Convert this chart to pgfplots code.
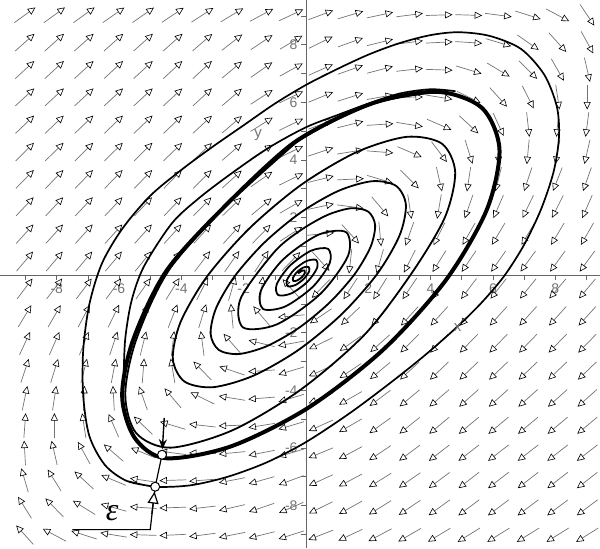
\documentclass[border=0pt]{standalone}
\usepackage{pgfplots}
\pgfplotsset{compat=1.18}
\usepackage{fontspec}
\setmainfont{Liberation Sans}
\newfontfamily\serifit{Liberation Serif}
\usetikzlibrary{arrows.meta}
\begin{document}
\begin{tikzpicture}
\begin{axis}[
  width=600pt, height=548pt, scale only axis,
  xmin=-9.808, xmax=9.423, ymin=-9.466, ymax=9.535,
  axis lines=middle,
  axis line style={-, draw=black!60, line width=0.8pt},
  xtick={-8,-6,-4,-2,2,4,6,8},
  xticklabels={-8,-6,-4,-2,2,4,6,8},
  ytick={-8,-6,-4,-2,2,4,6,8},
  yticklabels={-8,-6,-4,-2,2,4,6,8},
  minor xtick={-9,-7,-5,-3,-1,1,3,5,7,9},
  minor ytick={-9,-7,-5,-3,-1,1,3,5,7,9},
  tick align=outside,
  major tick length=5pt, minor tick length=5pt,
  tick style={draw=black!60, line width=0.6pt},
  every tick label/.append style={font=\fontsize{14}{14}\selectfont, text=black!55},
]
% direction field: grid centre x, y and direction angle a (degrees)
\addplot[draw=black!55, line width=0.7pt,
  -{Triangle[open, length=7.5pt, width=7pt, color=black, line width=0.6pt]},
  quiver={u={0.86*cos(\thisrow{a})}, v={0.86*sin(\thisrow{a})}}]
  table[row sep=\\, x expr={\thisrow{x}-0.43*cos(\thisrow{a})}, y expr={\thisrow{y}-0.43*sin(\thisrow{a})}] {
x y a\\
-9.025 9.025 38\\ -8.075 9.025 38\\ -7.125 9.025 38\\ -6.175 9.025 37\\ -5.225 9.025 37\\ -4.275 9.025 36\\ -3.325 9.025 35\\ -2.375 9.025 33\\ -1.425 9.025 30\\ -0.475 9.025 27\\ 0.475 9.025 22\\ 1.425 9.025 18\\ 2.375 9.025 13\\ 3.325 9.025 8\\ 4.275 9.025 2\\ 5.225 9.025 -2\\ 6.175 9.025 -8\\ 7.125 9.025 -19\\ 8.075 9.025 -30\\ 9.025 9.025 -58\\
-9.025 8.075 44\\ -8.075 8.075 44\\ -7.125 8.075 44\\ -6.175 8.075 44\\ -5.225 8.075 44\\ -4.275 8.075 44\\ -3.325 8.075 43\\ -2.375 8.075 40\\ -1.425 8.075 36\\ -0.475 8.075 33\\ 0.475 8.075 28\\ 1.425 8.075 21\\ 2.375 8.075 15\\ 3.325 8.075 8\\ 4.275 8.075 3\\ 5.225 8.075 -4\\ 6.175 8.075 -18\\ 7.125 8.075 -37\\ 8.075 8.075 -50\\ 9.025 8.075 -63\\
-9.025 7.125 45\\ -8.075 7.125 45\\ -7.125 7.125 45\\ -6.175 7.125 45\\ -5.225 7.125 45\\ -4.275 7.125 45\\ -3.325 7.125 45\\ -2.375 7.125 42\\ -1.425 7.125 37\\ -0.475 7.125 31\\ 0.475 7.125 26\\ 1.425 7.125 21\\ 2.375 7.125 16\\ 3.325 7.125 7\\ 4.275 7.125 -2\\ 5.225 7.125 -18\\ 6.175 7.125 -33\\ 7.125 7.125 -47\\ 8.075 7.125 -62\\ 9.025 7.125 -78\\
-9.025 6.175 45\\ -8.075 6.175 45\\ -7.125 6.175 45\\ -6.175 6.175 45\\ -5.225 6.175 45\\ -4.275 6.175 45\\ -3.325 6.175 45\\ -2.375 6.175 43\\ -1.425 6.175 35\\ -0.475 6.175 28\\ 0.475 6.175 24\\ 1.425 6.175 19\\ 2.375 6.175 11\\ 3.325 6.175 1\\ 4.275 6.175 -10\\ 5.225 6.175 -28\\ 6.175 6.175 -50\\ 7.125 6.175 -65\\ 8.075 6.175 -82\\ 9.025 6.175 -90\\
-9.025 5.225 46\\ -8.075 5.225 46\\ -7.125 5.225 46\\ -6.175 5.225 46\\ -5.225 5.225 46\\ -4.275 5.225 46\\ -3.325 5.225 45\\ -2.375 5.225 43\\ -1.425 5.225 34\\ -0.475 5.225 28\\ 0.475 5.225 22\\ 1.425 5.225 15\\ 2.375 5.225 4\\ 3.325 5.225 -10\\ 4.275 5.225 -25\\ 5.225 5.225 -45\\ 6.175 5.225 -67\\ 7.125 5.225 -84\\ 8.075 5.225 -95\\ 9.025 5.225 -97\\
-9.025 4.275 47\\ -8.075 4.275 47\\ -7.125 4.275 47\\ -6.175 4.275 47\\ -5.225 4.275 47\\ -4.275 4.275 46\\ -3.325 4.275 45\\ -2.375 4.275 43\\ -1.425 4.275 35\\ -0.475 4.275 28\\ 0.475 4.275 20\\ 1.425 4.275 10\\ 2.375 4.275 -5\\ 3.325 4.275 -25\\ 4.275 4.275 -55\\ 5.225 4.275 -74\\ 6.175 4.275 -88\\ 7.125 4.275 -95\\ 8.075 4.275 -100\\ 9.025 4.275 -102\\
-9.025 3.325 48\\ -8.075 3.325 48\\ -7.125 3.325 48\\ -6.175 3.325 48\\ -5.225 3.325 48\\ -4.275 3.325 48\\ -3.325 3.325 47\\ -2.375 3.325 44\\ -1.425 3.325 37\\ -0.475 3.325 28\\ 0.475 3.325 15\\ 1.425 3.325 3\\ 2.375 3.325 -18\\ 3.325 3.325 -47\\ 4.275 3.325 -78\\ 5.225 3.325 -98\\ 6.175 3.325 -103\\ 7.125 3.325 -107\\ 8.075 3.325 -110\\ 9.025 3.325 -108\\
-9.025 2.375 49\\ -8.075 2.375 49\\ -7.125 2.375 49\\ -6.175 2.375 49\\ -5.225 2.375 49\\ -4.275 2.375 49\\ -3.325 2.375 48\\ -2.375 2.375 46\\ -1.425 2.375 42\\ -0.475 2.375 32\\ 0.475 2.375 13\\ 1.425 2.375 -8\\ 2.375 2.375 -52\\ 3.325 2.375 -82\\ 4.275 2.375 -99\\ 5.225 2.375 -108\\ 6.175 2.375 -112\\ 7.125 2.375 -114\\ 8.075 2.375 -115\\ 9.025 2.375 -112\\
-9.025 1.425 50\\ -8.075 1.425 50\\ -7.125 1.425 50\\ -6.175 1.425 50\\ -5.225 1.425 50\\ -4.275 1.425 50\\ -3.325 1.425 50\\ -2.375 1.425 50\\ -1.425 1.425 48\\ -0.475 1.425 35\\ 0.475 1.425 6\\ 1.425 1.425 -50\\ 2.375 1.425 -85\\ 3.325 1.425 -108\\ 4.275 1.425 -115\\ 5.225 1.425 -118\\ 6.175 1.425 -119\\ 7.125 1.425 -119\\ 8.075 1.425 -119\\ 9.025 1.425 -118\\
-9.025 0.475 52\\ -8.075 0.475 52\\ -7.125 0.475 52\\ -6.175 0.475 52\\ -5.225 0.475 53\\ -4.275 0.475 54\\ -3.325 0.475 55\\ -2.375 0.475 57\\ -1.425 0.475 59\\ -0.475 0.475 48\\ 0.475 0.475 -50\\ 1.425 0.475 -96\\ 2.375 0.475 -105\\ 3.325 0.475 -115\\ 4.275 0.475 -120\\ 5.225 0.475 -122\\ 6.175 0.475 -123\\ 7.125 0.475 -124\\ 8.075 0.475 -124\\ 9.025 0.475 -124\\
-9.025 -0.475 55\\ -8.075 -0.475 55\\ -7.125 -0.475 55\\ -6.175 -0.475 56\\ -5.225 -0.475 57\\ -4.275 -0.475 60\\ -3.325 -0.475 65\\ -2.375 -0.475 75\\ -1.425 -0.475 84\\ -0.475 -0.475 130\\ 0.475 -0.475 -132\\ 1.425 -0.475 -121\\ 2.375 -0.475 -120\\ 3.325 -0.475 -122\\ 4.275 -0.475 -124\\ 5.225 -0.475 -125\\ 6.175 -0.475 -126\\ 7.125 -0.475 -127\\ 8.075 -0.475 -128\\ 9.025 -0.475 -128\\
-9.025 -1.425 61\\ -8.075 -1.425 62\\ -7.125 -1.425 64\\ -6.175 -1.425 66\\ -5.225 -1.425 68\\ -4.275 -1.425 70\\ -3.325 -1.425 74\\ -2.375 -1.425 95\\ -1.425 -1.425 128\\ -0.475 -1.425 -174\\ 0.475 -1.425 -144\\ 1.425 -1.425 -134\\ 2.375 -1.425 -130\\ 3.325 -1.425 -130\\ 4.275 -1.425 -130\\ 5.225 -1.425 -130\\ 6.175 -1.425 -130\\ 7.125 -1.425 -130\\ 8.075 -1.425 -130\\ 9.025 -1.425 -130\\
-9.025 -2.375 67\\ -8.075 -2.375 68\\ -7.125 -2.375 70\\ -6.175 -2.375 73\\ -5.225 -2.375 77\\ -4.275 -2.375 84\\ -3.325 -2.375 97\\ -2.375 -2.375 129\\ -1.425 -2.375 165\\ -0.475 -2.375 -169\\ 0.475 -2.375 -152\\ 1.425 -2.375 -143\\ 2.375 -2.375 -136\\ 3.325 -2.375 -133\\ 4.275 -2.375 -132\\ 5.225 -2.375 -132\\ 6.175 -2.375 -132\\ 7.125 -2.375 -132\\ 8.075 -2.375 -132\\ 9.025 -2.375 -132\\
-9.025 -3.325 73\\ -8.075 -3.325 74\\ -7.125 -3.325 77\\ -6.175 -3.325 80\\ -5.225 -3.325 86\\ -4.275 -3.325 99\\ -3.325 -3.325 132\\ -2.375 -3.325 160\\ -1.425 -3.325 -176\\ -0.475 -3.325 -162\\ 0.475 -3.325 -154\\ 1.425 -3.325 -144\\ 2.375 -3.325 -138\\ 3.325 -3.325 -135\\ 4.275 -3.325 -134\\ 5.225 -3.325 -134\\ 6.175 -3.325 -134\\ 7.125 -3.325 -134\\ 8.075 -3.325 -134\\ 9.025 -3.325 -134\\
-9.025 -4.275 79\\ -8.075 -4.275 82\\ -7.125 -4.275 88\\ -6.175 -4.275 93\\ -5.225 -4.275 108\\ -4.275 -4.275 128\\ -3.325 -4.275 152\\ -2.375 -4.275 170\\ -1.425 -4.275 -175\\ -0.475 -4.275 -162\\ 0.475 -4.275 -155\\ 1.425 -4.275 -148\\ 2.375 -4.275 -141\\ 3.325 -4.275 -138\\ 4.275 -4.275 -137\\ 5.225 -4.275 -136\\ 6.175 -4.275 -136\\ 7.125 -4.275 -136\\ 8.075 -4.275 -136\\ 9.025 -4.275 -136\\
-9.025 -5.225 86\\ -8.075 -5.225 90\\ -7.125 -5.225 98\\ -6.175 -5.225 112\\ -5.225 -5.225 134\\ -4.275 -5.225 162\\ -3.325 -5.225 173\\ -2.375 -5.225 -178\\ -1.425 -5.225 -170\\ -0.475 -5.225 -162\\ 0.475 -5.225 -154\\ 1.425 -5.225 -148\\ 2.375 -5.225 -142\\ 3.325 -5.225 -139\\ 4.275 -5.225 -138\\ 5.225 -5.225 -138\\ 6.175 -5.225 -138\\ 7.125 -5.225 -138\\ 8.075 -5.225 -138\\ 9.025 -5.225 -138\\
-9.025 -6.175 93\\ -8.075 -6.175 102\\ -7.125 -6.175 117\\ -6.175 -6.175 137\\ -5.225 -6.175 156\\ -4.275 -6.175 172\\ -3.325 -6.175 180\\ -2.375 -6.175 -174\\ -1.425 -6.175 -168\\ -0.475 -6.175 -162\\ 0.475 -6.175 -156\\ 1.425 -6.175 -150\\ 2.375 -6.175 -144\\ 3.325 -6.175 -141\\ 4.275 -6.175 -140\\ 5.225 -6.175 -140\\ 6.175 -6.175 -140\\ 7.125 -6.175 -140\\ 8.075 -6.175 -140\\ 9.025 -6.175 -140\\
-9.025 -7.125 105\\ -8.075 -7.125 120\\ -7.125 -7.125 135\\ -6.175 -7.125 156\\ -5.225 -7.125 171\\ -4.275 -7.125 -178\\ -3.325 -7.125 -175\\ -2.375 -7.125 -168\\ -1.425 -7.125 -163\\ -0.475 -7.125 -158\\ 0.475 -7.125 -154\\ 1.425 -7.125 -150\\ 2.375 -7.125 -146\\ 3.325 -7.125 -143\\ 4.275 -7.125 -141\\ 5.225 -7.125 -140\\ 6.175 -7.125 -140\\ 7.125 -7.125 -140\\ 8.075 -7.125 -140\\ 9.025 -7.125 -140\\
-9.025 -8.075 120\\ -8.075 -8.075 132\\ -7.125 -8.075 146\\ -6.175 -8.075 163\\ -5.225 -8.075 176\\ -4.275 -8.075 -178\\ -3.325 -8.075 -173\\ -2.375 -8.075 -166\\ -1.425 -8.075 -160\\ -0.475 -8.075 -155\\ 0.475 -8.075 -152\\ 1.425 -8.075 -149\\ 2.375 -8.075 -146\\ 3.325 -8.075 -144\\ 4.275 -8.075 -142\\ 5.225 -8.075 -141\\ 6.175 -8.075 -141\\ 7.125 -8.075 -141\\ 8.075 -8.075 -141\\ 9.025 -8.075 -141\\
-9.025 -9.025 130\\ -8.075 -9.025 150\\ -7.125 -9.025 161\\ -6.175 -9.025 170\\ -5.225 -9.025 178\\ -4.275 -9.025 -177\\ -3.325 -9.025 -172\\ -2.375 -9.025 -168\\ -1.425 -9.025 -165\\ -0.475 -9.025 -161\\ 0.475 -9.025 -157\\ 1.425 -9.025 -153\\ 2.375 -9.025 -150\\ 3.325 -9.025 -148\\ 4.275 -9.025 -147\\ 5.225 -9.025 -146\\ 6.175 -9.025 -146\\ 7.125 -9.025 -146\\ 8.075 -9.025 -146\\ 9.025 -9.025 -146\\
};
% outer trajectory (first lap from the epsilon point)
\addplot[black, line width=1.7pt, smooth] coordinates {
(-4.84,-7.35) (-5.75,-7.15) (-6.45,-6.6) (-6.95,-5.6) (-7.15,-4.2) (-7.15,-2.6) (-6.95,-1.0) (-6.55,0.4) (-5.9,1.6) (-5.0,2.75) (-4.0,3.65) (-3.0,4.45) (-2.0,5.2) (-1.0,5.95) (0,6.6) (1.0,7.15) (2.0,7.65) (3.0,8.05) (4.0,8.33) (4.9,8.43) (5.9,8.3) (6.9,7.85) (7.65,6.95) (8.05,5.85) (8.12,4.8) (7.95,3.6) (7.55,2.3) (7.0,1.05) (6.35,-0.05) (5.6,-1.0) (4.8,-1.85) (3.8,-2.8) (2.7,-3.75) (1.4,-4.8) (0,-5.8) (-1.25,-6.5) (-2.5,-7.0) (-3.7,-7.3) (-4.84,-7.35) (-5.75,-7.15)
};
% second lap of the outer trajectory, closing on the cycle
\addplot[black, line width=1.7pt, smooth] coordinates {
(-5.85,-3.4) (-5.8,-2.2) (-5.6,-0.9) (-5.2,0.3) (-4.3,1.8) (-3.4,2.7) (-2.3,3.6) (-1.15,4.45) (0,5.13) (1.0,5.55) (2.0,5.95) (3.0,6.3) (4.0,6.45) (4.8,6.38)
};
% inner spiral
\addplot[black, line width=1.8pt, smooth] coordinates {
(-0.254,0.054) (-0.139,0.143) (-0.045,0.155) (-0.036,0.070) (-0.129,-0.071) (-0.281,-0.188) (-0.404,-0.204) (-0.417,-0.093)
(-0.296,0.096) (-0.090,0.258) (0.081,0.281) (0.102,0.129) (-0.068,-0.132) (-0.352,-0.354) (-0.587,-0.387) (-0.614,-0.178)
(-0.381,0.181) (0.006,0.481) (0.322,0.522) (0.354,0.238) (0.041,-0.241) (-0.474,-0.639) (-0.894,-0.694) (-0.937,-0.316)
(-0.520,0.320) (0.162,0.844) (0.709,0.909) (0.760,0.412) (0.214,-0.414) (-0.669,-1.093) (-1.378,-1.178) (-1.445,-0.533)
(-0.737,0.537) (0.400,1.399) (1.287,1.487) (1.348,0.664) (0.458,-0.658) (-0.934,-1.713) (-2.020,-1.820) (-2.096,-0.812)
(-1.009,0.809) (-0.173,1.554) (0.695,2.088) (1.460,2.320) (1.999,2.199) (2.219,1.731) (2.071,0.973) (1.562,0.031)
(0.757,-0.957) (-0.232,-1.838) (-1.258,-2.470) (-2.164,-2.744) (-2.801,-2.601) (-3.061,-2.048) (-2.886,-1.151) (-2.284,-0.036)
(-1.331,1.131) (-0.162,2.176) (1.055,2.928) (2.132,3.258) (2.893,3.093) (3.206,2.438) (3.002,1.372) (2.289,0.044)
(1.153,-1.353) (-0.245,-2.603) (-1.701,-3.501) (-2.988,-3.895) (-3.899,-3.699) (-4.273,-2.915) (-4.029,-1.641) (-3.176,-0.052)
(-1.818,1.618) (-0.145,3.139) (1.63,4.27) (3.234,4.797) (4.361,4.561) (4.788,3.570) (4.455,1.995) (3.391,0.063)
(1.88,-2.07) (-0.17,-3.98) (-2.36,-5.39) (-4.345,-5.994) (-5.45,-5.49) (-5.8,-4.15) (-5.45,-2.25) (-4.38,0.2) (-2.36,2.62) (-0.32,4.6) (2.1,5.93) (4.21,6.36)
};
% limit cycle
\addplot[black, line width=4pt, smooth] coordinates {
(-2.4,2.61) (-0.34,4.63) (2.10,5.95) (4.21,6.36) (5.65,5.80) (6.21,4.36) (5.80,2.26) (4.48,-0.19) (2.46,-2.61) (0.04,-4.63) (-2.41,-5.95) (-4.51,-6.36) (-5.5,-5.65) (-5.9,-4.2) (-5.55,-2.26) (-4.45,0.19) (-2.4,2.61) (-0.34,4.63)
};
% epsilon bracket
\addplot[black, line width=1.2pt] coordinates {(-7.5,-8.84) (-5.0,-8.84) (-4.84,-7.35) (-4.62,-6.24)};
\addplot[black, line width=1.2pt, -{Triangle[open, length=12pt, width=11pt, fill=white]}] coordinates {(-4.95,-8.3) (-4.86,-7.52)};
\addplot[black, line width=1.4pt, -{Stealth[length=10pt, width=8pt]}] coordinates {(-4.55,-4.96) (-4.61,-6.05)};
\addplot[only marks, mark=*, mark size=4.5pt, mark options={fill=white, draw=black, line width=1pt}] coordinates {(-4.62,-6.24) (-4.84,-7.35)};
\node[font=\serifit\itshape\fontsize{32}{32}\selectfont] at (axis cs:-6.22,-8.25) {ε};
\node[text=black!55, font=\fontsize{15}{15}\selectfont] at (axis cs:4.87,-1.84) {x};
\node[text=black!55, font=\fontsize{15}{15}\selectfont] at (axis cs:-1.54,4.85) {y};
\end{axis}
\end{tikzpicture}
\end{document}
